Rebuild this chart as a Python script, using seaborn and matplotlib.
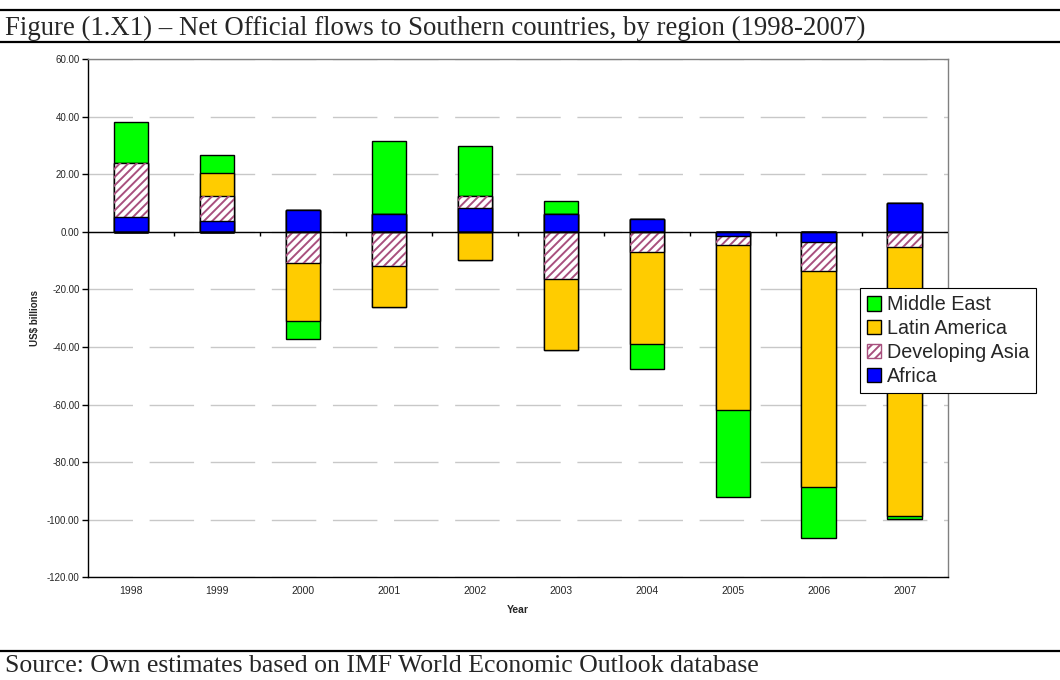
import numpy as np
import pandas as pd
import matplotlib
matplotlib.use("Agg")
import matplotlib.pyplot as plt
from matplotlib.lines import Line2D
from matplotlib.patches import Patch
import seaborn as sns

# Values (US$ billions)
years = ["1998", "1999", "2000", "2001", "2002", "2003", "2004", "2005", "2006", "2007"]
africa = [5.0, 3.8, 7.7, 6.3, 8.3, 6.3, 4.4, -1.6, -3.6, 10.2]
developing_asia = [19.1, 8.7, -10.9, -12.0, 4.1, -16.4, -6.9, -2.8, -9.9, -5.3]
latin_america = [0.0, 7.9, -20.0, -14.1, -9.7, -24.5, -32.2, -57.4, -75.1, -93.3]
middle_east = [14.0, 6.2, -6.2, 25.3, 17.4, 4.5, -8.7, -30.2, -17.6, -1.3]

regions = ["Africa", "Developing Asia", "Latin America", "Middle East"]
colors = {"Africa": "#0000FF", "Developing Asia": "white",
          "Latin America": "#FFCC00", "Middle East": "#00FF00"}
hatch_color = "#a8507e"

df = pd.DataFrame({"Africa": africa, "Developing Asia": developing_asia,
                   "Latin America": latin_america, "Middle East": middle_east},
                  index=years)

# cumulative stacks, positives and negatives separately (Excel style)
pos = df.clip(lower=0).cumsum(axis=1)
neg = df.clip(upper=0).cumsum(axis=1)

sns.set_theme(style="white")
plt.rcParams["font.family"] = ["Liberation Sans", "DejaVu Sans"]
plt.rcParams["hatch.linewidth"] = 1.4

fig = plt.figure(figsize=(10.6, 6.8), dpi=100)
ax = fig.add_axes([0.083, 0.151, 0.811, 0.762])

ax.yaxis.grid(True, color="#c8c8c8", linewidth=1.0, linestyle=(0, (32, 12)))
ax.set_axisbelow(True)

# draw top layer first, lower layers overlay it
for stack in [pos, neg]:
    for reg in regions[::-1]:
        plot_df = pd.DataFrame({"year": years, "value": stack[reg].values})
        n0 = len(ax.patches)
        sns.barplot(data=plot_df, x="year", y="value", color=colors[reg],
                    saturation=1, width=0.4, edgecolor="black", linewidth=1.0,
                    errorbar=None, ax=ax, zorder=3)
        if reg == "Developing Asia":
            for p in ax.patches[n0:]:
                p.set_facecolor("white")
            sns.barplot(data=plot_df, x="year", y="value", color="white",
                        saturation=1, width=0.4, errorbar=None, ax=ax, zorder=3)
            for p in ax.patches[len(ax.patches) - len(years):]:
                p.set_facecolor("none")
                p.set_edgecolor(hatch_color)
                p.set_hatch("////")
                p.set_linewidth(0)

ax.axhline(0, color="black", linewidth=1.0, zorder=4)
ax.vlines(np.arange(len(years) - 1) + 0.5, -1.3, 0, color="black",
          linewidth=1.0, zorder=4)

ax.set_ylim(-120, 60)
ax.set_xlim(-0.5, len(years) - 0.5)
ax.set_yticks(np.arange(-120, 61, 20))
ax.set_yticklabels([f"{v:.2f}" for v in np.arange(-120, 61, 20)], fontsize=7)
ax.tick_params(axis="y", left=True, length=4, width=1, color="black", pad=2)
ax.tick_params(axis="x", bottom=False, labelsize=7.5, pad=0)

ax.set_xlabel("Year", fontsize=7.5, fontweight="bold", labelpad=7)
ax.set_ylabel("US$ billions", fontsize=7, fontweight="bold", labelpad=5)

for side in ["left", "bottom"]:
    ax.spines[side].set_color("black")
    ax.spines[side].set_linewidth(1.0)
for side in ["top", "right"]:
    ax.spines[side].set_color("#808080")
    ax.spines[side].set_linewidth(1.0)

handles = [Patch(facecolor=colors["Middle East"], edgecolor="black", label="Middle East"),
           Patch(facecolor=colors["Latin America"], edgecolor="black", label="Latin America"),
           Patch(facecolor="white", edgecolor=hatch_color, hatch="////", label="Developing Asia"),
           Patch(facecolor=colors["Africa"], edgecolor="black", label="Africa")]
leg = fig.legend(handles=handles, loc="upper left", bbox_to_anchor=(0.811, 0.576),
                 bbox_transform=fig.transFigure, fontsize=14.2, frameon=True,
                 fancybox=False, framealpha=1, edgecolor="black",
                 handlelength=0.75, handleheight=0.75, handletextpad=0.3,
                 labelspacing=0.25, borderpad=0.35, borderaxespad=0)
leg.get_frame().set_linewidth(0.8)

# figure frame lines and captions
for y in [0.985, 0.938, 0.043]:
    fig.add_artist(Line2D([0, 1], [y, y], transform=fig.transFigure,
                          color="black", linewidth=1.6))
fig.text(0.005, 0.958, "Figure (1.X1) \u2013 Net Official flows to Southern countries, by region (1998-2007)",
         fontsize=19.3, family="Liberation Serif", va="center", ha="left")
fig.text(0.005, 0.020, "Source: Own estimates based on IMF World Economic Outlook database",
         fontsize=18.5, family="Liberation Serif", va="center", ha="left")

fig.savefig("out.png", dpi=100)
